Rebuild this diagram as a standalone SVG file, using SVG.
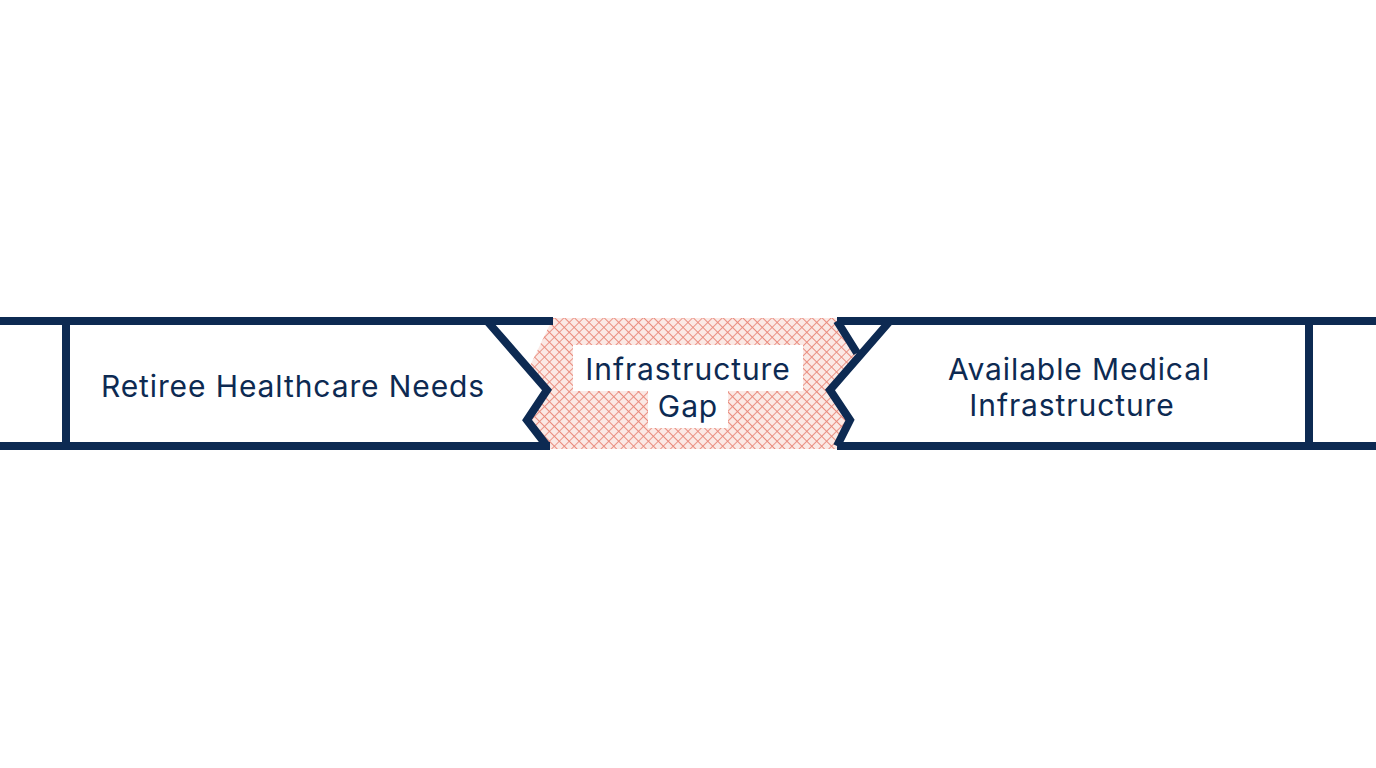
<svg xmlns="http://www.w3.org/2000/svg" width="1376" height="768" viewBox="0 0 1376 768">
<style>
.s{fill:none;stroke:#0d2a52;stroke-width:8;stroke-linejoin:miter;stroke-linecap:butt}
.t{font-family:"Inter","Liberation Sans",sans-serif;font-size:30px;letter-spacing:0.9px;fill:#0d2a52;text-anchor:middle}
</style>
<defs>
<pattern id="h" width="7" height="7" patternUnits="userSpaceOnUse" patternTransform="rotate(45)">
<rect width="7" height="7" fill="#fbe9e5"/>
<path d="M0 0H7M0 0V7" stroke="#e98a7c" stroke-width="1.8"/>
</pattern>
</defs>
<rect width="1376" height="768" fill="#fff"/>
<g id="gap">
<polygon points="553,318 837,318 857,353 830,390 850,420 837,449 550,449 527,420 547,390 528,370" fill="url(#h)"/>
<rect x="573" y="345" width="230" height="46" fill="#fff"/>
<rect x="648" y="390" width="80" height="38" fill="#fff"/>
<text class="t" x="688" y="380">Infrastructure</text>
<text class="t" x="688" y="417">Gap</text>
</g>
<g id="left">
<path class="s" d="M0 321H553M0 446H550M66 321V446M487 321L547 390L527 420L547 446"/>
<text class="t" x="293" y="397">Retiree Healthcare Needs</text>
</g>
<g id="right">
<path class="s" d="M837 321H1376M837 446H1376M1309 321V446M837 321L857 353M890 321L830 390L850 420L837 446"/>
<text class="t" x="1079" y="380">Available Medical</text>
<text class="t" x="1072" y="416">Infrastructure</text>
</g>
<g id="connectors"/>
</svg>
